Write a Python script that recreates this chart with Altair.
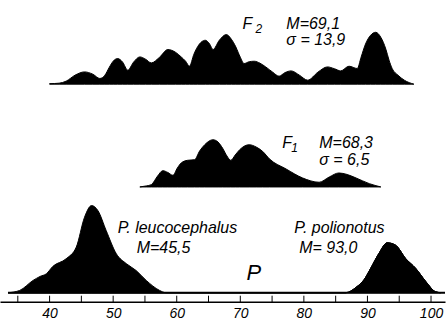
import altair as alt
import pandas as pd

# Hybrid F2: class value and relative frequency
f2_x = [40.0, 41.5, 42.6, 44.0, 45.5, 46.8, 47.9, 48.7, 49.4, 50.0, 50.7, 51.5,
        52.3, 53.2, 54.2, 55.1, 56.0, 57.3, 58.6, 59.8, 60.7, 61.4, 62.0, 62.7,
        63.3, 64.5, 65.2, 65.7, 66.7, 67.8, 68.6, 69.3, 70.0, 70.6, 71.4, 72.2,
        73.1, 74.0, 75.1, 76.1, 77.0, 78.0, 79.3, 80.6, 82.2, 83.7, 84.8, 85.8,
        87.1, 88.4, 89.0, 89.7, 90.5, 91.3, 92.1, 92.9, 93.4, 93.9, 94.8, 95.8,
        97.3]
f2_f = [0.5, 1, 3, 9, 12.3, 10, 5.7, 9, 17, 23, 25.7, 22,
        14, 22, 27.3, 25, 21.3, 27, 34.7, 32, 27.3, 23, 18, 30,
        37.7, 44, 40, 34.7, 44, 49.7, 45, 37.3, 27, 20.7, 22.5, 23,
        21, 17.3, 12, 8, 11.5, 13.3, 9, 4, 12, 17.3, 15.5, 13.3,
        18, 15.7, 27, 40.3, 49, 52, 47, 35, 24, 15.5, 9, 4,
        0]

# Hybrid F1
f1_x = [54.2, 55.2, 56.0, 57.0, 57.8, 58.6, 59.4, 60.1, 60.7, 61.7, 62.8, 63.6,
        64.4, 65.7, 66.5, 67.2, 67.9, 68.5, 69.2, 69.9, 71.4, 72.5, 73.5, 74.6,
        77.2, 79.8, 82.4, 84.0, 85.5, 86.8, 88.2, 90.3, 92.1]
f1_f = [0, 1, 2.3, 11, 16.3, 14.5, 11.7, 19, 24, 26.7, 27.3, 36,
        42.3, 47.3, 45, 39, 31, 26.7, 32, 37.3, 42.3, 40, 35.7, 28,
        18, 9, 4.7, 10, 14, 12.5, 9, 3.3, 0]

# Parental forms
leuco_x = [33.5, 35.3, 37.4, 38.5, 39.5, 40.5, 42.6, 44.2, 45.5, 46.6, 47.6, 48.9,
           50.5, 52.1, 53.6, 55.2, 57.3, 58.3]
leuco_f = [0, 2.3, 12.3, 16.3, 19, 26.3, 34, 45.7, 75.7, 87.3, 82.3, 62.3,
           39, 29, 22.3, 12.3, 2.3, 0]
polio_x = [86.6, 88.2, 89.5, 90.5, 91.8, 93.1, 94.4, 96.0, 97.6, 99.2, 100.7, 101.5]
polio_f = [0, 5.3, 13.3, 24.3, 39.3, 50, 47.7, 34.3, 24.3, 11, 1, 0]

tick_values = list(range(35, 101, 5))
label_values = list(range(40, 101, 10))

FONT = "Liberation Sans"
X_DOMAIN = [32.2, 102.2]
W = 446
H_F2, H_F1, H_P = 84, 103, 106

xscale = alt.Scale(domain=X_DOMAIN, nice=False, zero=False)

x_axis = alt.Axis(
    values=label_values, ticks=False, tickSize=0, grid=False,
    domain=True, domainColor="black", domainWidth=1.5, offset=9,
    labelFont=FONT, labelFontSize=14, labelFontStyle="italic",
    labelColor="black", labelPadding=5, title=None, labelFlush=False,
)


def curve(df, h, detail=False, axis=None):
    enc = dict(
        x=alt.X("x:Q", scale=xscale, axis=axis),
        y=alt.Y("f:Q", scale=alt.Scale(domain=[0, h], nice=False), axis=None),
    )
    if detail:
        enc["detail"] = "form:N"
    return alt.Chart(df).mark_area(
        interpolate="monotone", color="black", stroke="black", strokeWidth=1
    ).encode(**enc)


def label(text, x, y, size=16, align="left", style="italic"):
    return alt.Chart(alt.Data(values=[{}])).mark_text(
        text=text, font=FONT, fontSize=size, fontStyle=style,
        align=align, baseline="middle", color="black"
    ).encode(x=alt.value(x), y=alt.value(y))


f2_df = pd.DataFrame({"x": f2_x, "f": f2_f})
f1_df = pd.DataFrame({"x": f1_x, "f": f1_f})
p_df = pd.concat([
    pd.DataFrame({"x": leuco_x, "f": leuco_f, "form": "P. leucocephalus"}),
    pd.DataFrame({"x": polio_x, "f": polio_f, "form": "P. polionotus"}),
])

panel_f2 = alt.layer(
    curve(f2_df, H_F2),
    label("F", 243, 24),
    label("2", 256, 29, size=12),
    label("M=69,1", 287, 24),
    label("σ = 13,9", 287, 40),
).properties(width=W, height=H_F2)

panel_f1 = alt.layer(
    curve(f1_df, H_F1),
    label("F", 283, 59),
    label("1", 292, 64, size=12),
    label("M=68,3", 320, 59),
    label("σ = 6,5", 320, 76),
).properties(width=W, height=H_F1)

baseline = alt.Chart(alt.Data(values=[{}])).mark_rule(
    color="black", strokeWidth=2
).encode(x=alt.value(8), x2=alt.value(W), y=alt.value(H_P))

ticks = alt.Chart(pd.DataFrame({"v": tick_values})).mark_rule(
    color="black", strokeWidth=1
).encode(
    x=alt.X("v:Q", scale=xscale, axis=x_axis),
    y=alt.value(H_P + 3),
    y2=alt.value(H_P + 10),
)

panel_p = alt.layer(
    curve(p_df, H_P, detail=True, axis=x_axis),
    baseline,
    ticks,
    label("P. leucocephalus", 118, 41),
    label("M=45,5", 137, 61),
    label("P. polionotus", 295, 41),
    label("M= 93,0", 300, 61),
    label("P", 247, 86, size=22),
).properties(width=W, height=H_P)

chart = alt.vconcat(panel_f2, panel_f1, panel_p, spacing=0, bounds="flush").properties(
    padding=0, background="white"
).configure_view(stroke=None)

chart.save("out.html", embed_options={"renderer": "svg", "actions": False})
